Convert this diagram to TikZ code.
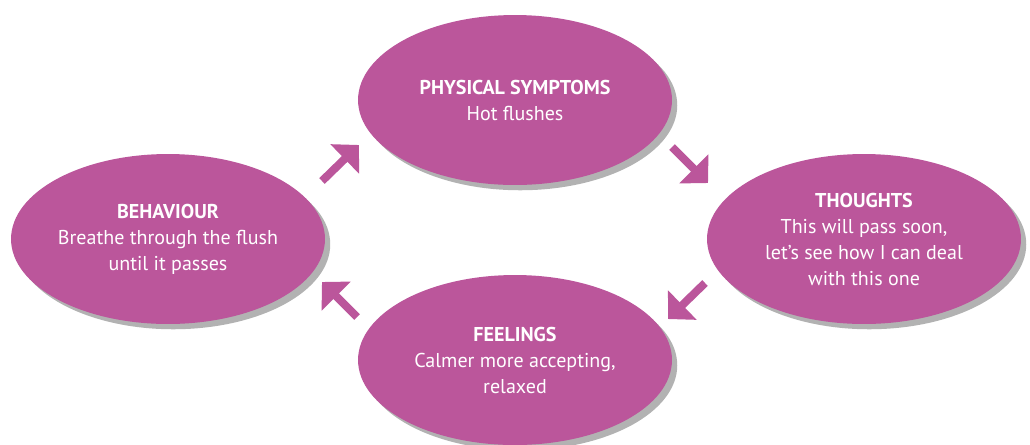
\documentclass[tikz,border=0pt]{standalone}
\usepackage{fontspec}
\setmainfont{PT Sans}
\usetikzlibrary{positioning,calc,arrows.meta,shapes.geometric,shadows}
\definecolor{plum}{RGB}{187,86,155}
\tikzset{
    every node/.style={font=\fontsize{11.4}{14.8}\selectfont},
    plumcycle/.style={fill=plum, ellipse, text=white, align=center, inner sep=0pt,
        minimum width=6.28cm, minimum height=3.4cm,
        drop shadow={shadow xshift=3pt, shadow yshift=-3pt, fill=black, opacity=0.3}},
    arrow/.style={-{Triangle[length=0.4cm, width=0.8cm]}, draw=plum, line width=0.16cm},
}

\begin{document}
\begin{tikzpicture}[x=0.02cm, y=-0.02cm]
  \useasboundingbox (0,0) rectangle (1030,444);
  \node[plumcycle] (symptoms) at (515,100) {\textbf{PHYSICAL SYMPTOMS}\\Hot flushes};
  \node[plumcycle] (thoughts) at ($(symptoms) + (349,139)$) {\textbf{THOUGHTS}\\This will pass soon,\\let’s see how I can deal\\with this one};
  \node[plumcycle] (feelings) at ($(symptoms) + (0,260)$) {\textbf{FEELINGS}\\Calmer more accepting,\\relaxed};
  \node[plumcycle] (behaviour) at ($(symptoms) + (-347,139)$) {\textbf{BEHAVIOUR}\\Breathe through the flush\\until it passes};
  \coordinate (b2s) at (322,181);
  \coordinate (s2b) at (359,145);
  \coordinate (s2t) at (672,147);
  \coordinate (t2s) at (708,183);
  \coordinate (t2f) at (705,283);
  \coordinate (f2t) at (668,319);
  \coordinate (f2b) at (357,317);
  \coordinate (b2f) at (322,282);
    \draw[arrow] (b2s) -- (s2b);
    \draw[arrow] (s2t) -- (t2s);
    \draw[arrow] (t2f) -- (f2t);
    \draw[arrow] (f2b) -- (b2f);
\end{tikzpicture}
\end{document}
